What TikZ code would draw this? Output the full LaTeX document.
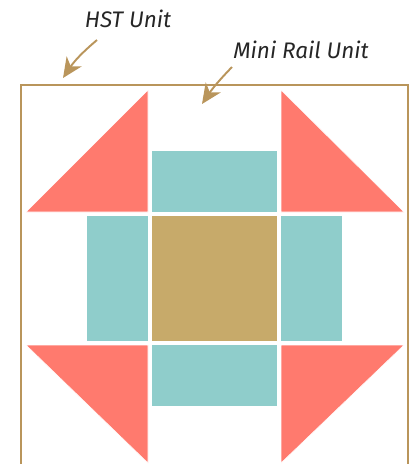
\documentclass[tikz,border=0pt]{standalone}
\usepackage{fontspec}
\setmainfont{Fira Sans}
\usetikzlibrary{arrows.meta}
\definecolor{hstred}{HTML}{FF7A6E}
\definecolor{railteal}{HTML}{8FCDCB}
\definecolor{centretan}{HTML}{C7AA6A}
\definecolor{frametan}{HTML}{B9955B}
\tikzset{
  hst/.style={
    fill=hstred, draw=white, line width=0.3pt,
  },
  rail/.style={
    fill=railteal,
  },
  centre/.style={
    fill=centretan,
  },
  blockframe/.style={
    draw=frametan, line width=1.3pt,
  },
  unitlabel/.style={
    font=\fontsize{12.8}{15}\selectfont\itshape, text=black!85, inner sep=1pt,
  },
  pointer/.style={
    -{Stealth[length=4mm, width=3.6mm, inset=1.2mm]}, line width=1.1pt,
    draw=frametan,
  }
}

\begin{document}
\begin{tikzpicture}[x=0.02cm, y=-0.02cm]

  \clip (0,0) rectangle (413,464);

  % Outer border of the block
  \draw[blockframe] (21,85) rectangle (408,480);

  % Four HST corners
  \fill[hst] (26,212) -- (148,90) -- (148,212) -- cycle;
  \fill[hst] (281,90) -- (404,212) -- (281,212) -- cycle;
  \fill[hst] (26,345) -- (148,345) -- (148,463) -- cycle;
  \fill[hst] (281,345) -- (404,345) -- (281,463) -- cycle;

  % Mini rails round the centre
  \fill[rail] (152,151) rectangle (277,212);
  \fill[rail] (152,345) rectangle (277,406);
  \fill[rail] (87,216) rectangle (148,341);
  \fill[rail] (281,216) rectangle (342,341);

  % Centre square
  \fill[centre] (152,216) rectangle (277,341);

  % Labels and pointers
  \node[unitlabel] (hst label) at (128,19) {HST Unit};
  \node[unitlabel] (rail label) at (301,50) {Mini Rail Unit};

  \coordinate (hst tail) at (97,40);
  \coordinate (hst tip) at (63,78);
  \coordinate (rail tail) at (232,67);
  \coordinate (rail tip) at (202,104);

  \draw[pointer] (hst tail) to[bend right=8] (hst tip);
  \draw[pointer] (rail tail) to[bend right=5] (rail tip);

\end{tikzpicture}
\end{document}
